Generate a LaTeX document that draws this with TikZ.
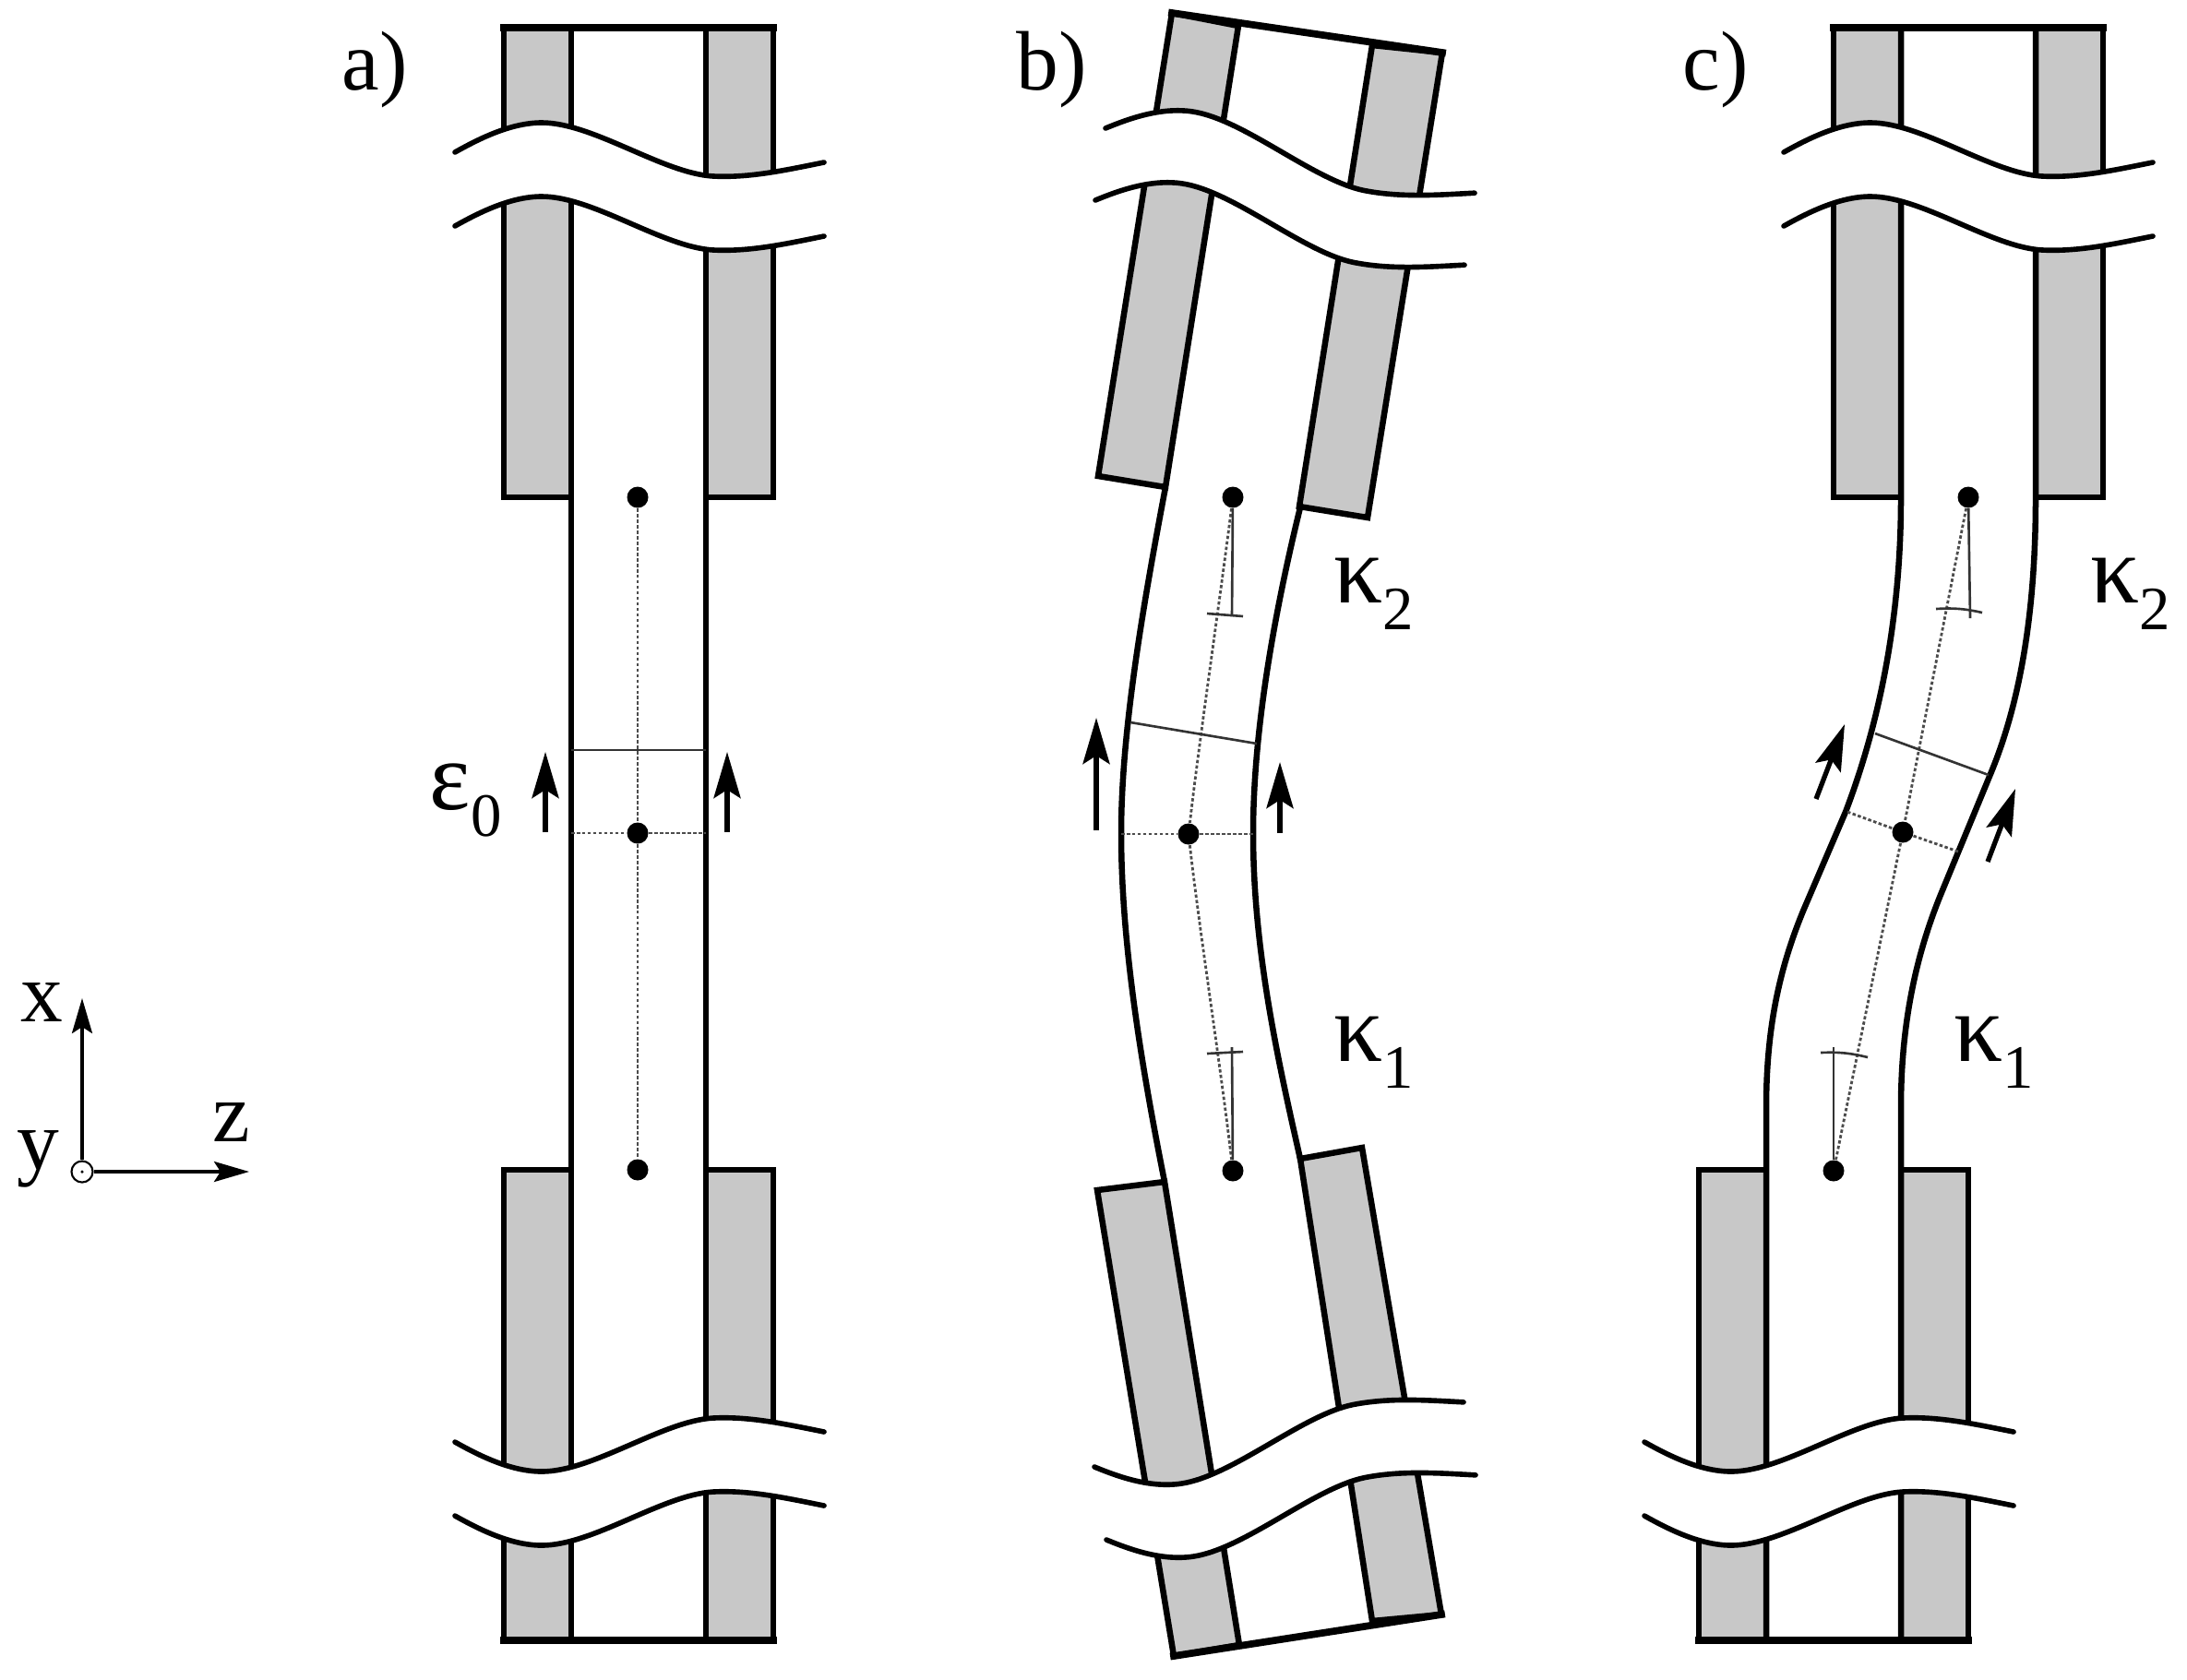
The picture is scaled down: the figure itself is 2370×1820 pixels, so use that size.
\documentclass[tikz,border=0pt]{standalone}
\usepackage{fontspec}
\setmainfont{Liberation Serif}
\usepackage{tikz}
\usetikzlibrary{positioning,arrows.meta}
\tikzstyle{sketch} = [x = .01cm, y = -.01cm, line join = miter]
\definecolor{gripColor}{RGB}{200,200,200}
\tikzstyle{gripStyle} = [color=black, fill=gripColor, line width=1.85pt]
\tikzstyle{edgeLine} = [color=black, line width=1.85pt]
\tikzstyle{capStyle} = [color=black, line width=2.2pt, line cap=rect]
\tikzstyle{breakLine} = [color=black, line width=1.6pt, line cap=round]
\tikzstyle{thinLine} = [color=black!80, line width=.75pt]
\tikzstyle{dottedLine} = [color=black!70, line width=.8pt, dash pattern=on 1pt off .7pt]
\tikzstyle{pointStyle} = [circle, fill=black, inner sep=0, minimum size=.23cm]
\tikzstyle{strainArrow} = [-{Stealth[length=.5cm, width=.29cm, inset=.09cm]}, line width=1.5pt]
\tikzstyle{axisArrow} = [-{Stealth[length=.38cm, width=.22cm, inset=.07cm]}, line width=.95pt]
\tikzstyle{labelText} = [inner sep=0, anchor=base west, font=\fontsize{26}{30}\selectfont]
\tikzstyle{greekText} = [labelText, font=\fontsize{30}{34}\selectfont]
\newcommand{\idx}[1]{\raisebox{-.28em}{\fontsize{19}{22}\selectfont #1}}
% one wavy cut line: prefix, start x, start y, flip, tilt
\newcommand{\breakPoints}[5]{
  \foreach \n/\px/\py in {a/0/0,b/25/-14,c/60/-32,d/94/-32,e/150/-32,f/225/23,g/280/26,h/320/28,i/360/19,j/400/11} {
    \coordinate (#1\n) at (#2 + \px, #3 + #4 * \py + #5 * \px);
  }
}
% white gap between two cut lines: prefix, x1, y1, x2, y2, flip, tilt
\newcommand{\breakBand}[7]{
  \breakPoints{#1u}{#2}{#3}{#6}{#7}
  \breakPoints{#1l}{#4}{#5}{#6}{#7}
  \fill [white] (#1ua) .. controls (#1ub) and (#1uc) .. (#1ud) .. controls (#1ue) and (#1uf) .. (#1ug) .. controls (#1uh) and (#1ui) .. (#1uj)
    -- (#1lj) .. controls (#1li) and (#1lh) .. (#1lg) .. controls (#1lf) and (#1le) .. (#1ld) .. controls (#1lc) and (#1lb) .. (#1la) -- cycle;
  \draw [breakLine] (#1ua) .. controls (#1ub) and (#1uc) .. (#1ud) .. controls (#1ue) and (#1uf) .. (#1ug) .. controls (#1uh) and (#1ui) .. (#1uj);
  \draw [breakLine] (#1la) .. controls (#1lb) and (#1lc) .. (#1ld) .. controls (#1le) and (#1lf) .. (#1lg) .. controls (#1lh) and (#1li) .. (#1lj);
}
\newcommand{\gripPair}[3]{
  \filldraw [gripStyle] (#1 - 73, #2) rectangle (#1, #3);
  \filldraw [gripStyle] (#1 + 146, #2) rectangle (#1 + 219, #3);
}
\newcommand{\capLine}[2]{\draw [capStyle] (#1 - 73, #2) -- (#1 + 219, #2);}
\newcommand{\strain}[5]{
  \coordinate (#1s) at (#2, #3);
  \coordinate (#1e) at (#4, #5);
  \draw [strainArrow] (#1s) -- (#1e);
}
\begin{document}
\begin{tikzpicture}[sketch]
  \useasboundingbox (0,0) rectangle (2370,1820);

  % axes
  \node [circle, draw, line width=.6pt, inner sep=0, minimum size=.23cm] (origin) at (89,1270) {};
  \node [circle, fill=black, inner sep=0, minimum size=.035cm] (originDot) at (origin) {};
  \coordinate (xTip) at (89,1082);
  \coordinate (zTip) at (270,1270);
  \draw [axisArrow] (origin) -- (xTip);
  \draw [axisArrow] (origin) -- (zTip);
  \node [labelText] (xLabel) at (22,1107) {x};
  \node [labelText] (yLabel) at (18,1267) {y};
  \node [labelText] (zLabel) at (230,1237) {z};

  % a)
  \node [labelText] (aLabel) at (370,97) {a)};
  \gripPair{619}{30}{539}
  \gripPair{619}{1268}{1778}
  \capLine{619}{30}
  \capLine{619}{1778}
  \draw [edgeLine] (619,30) -- (619,1778);
  \draw [edgeLine] (765,30) -- (765,1778);
  \breakBand{at}{493}{165}{493}{245}{1}{0}
  \breakBand{ab}{493}{1563}{493}{1643}{-1}{0}
  \node [pointStyle] (aTop) at (691,539) {};
  \node [pointStyle] (aMid) at (691,903) {};
  \node [pointStyle] (aBot) at (691,1268) {};
  \coordinate (aLeft) at (619,903);
  \coordinate (aRight) at (765,903);
  \coordinate (aCutL) at (619,813);
  \coordinate (aCutR) at (765,813);
  \draw [dottedLine] (aTop) -- (aMid);
  \draw [dottedLine] (aMid) -- (aBot);
  \draw [dottedLine] (aLeft) -- (aMid);
  \draw [dottedLine] (aMid) -- (aRight);
  \draw [thinLine] (aCutL) -- (aCutR);
  \strain{aA}{591}{902}{591}{815}
  \strain{aB}{788}{902}{788}{815}
  \node [greekText] (epsLabel) at (465,877) {ε\idx{0}};

  % b)
  \node [labelText] (bLabel) at (1101,97) {b)};
  \filldraw [gripStyle] (1270,14) -- (1342,28) -- (1263,528) -- (1190,516) -- cycle;
  \filldraw [gripStyle] (1487,49) -- (1563,57) -- (1482,561) -- (1408,549) -- cycle;
  \filldraw [gripStyle] (1189,1290) -- (1262,1281) -- (1343,1783) -- (1272,1795) -- cycle;
  \filldraw [gripStyle] (1409,1256) -- (1476,1244) -- (1562,1750) -- (1487,1757) -- cycle;
  \draw [capStyle] (1270,14) -- (1563,57);
  \draw [capStyle] (1272,1795) -- (1562,1750);
  \draw [edgeLine] (1263,528) .. controls (1240,650) and (1215,790) .. (1215,903) .. controls (1215,1030) and (1240,1170) .. (1262,1281);
  \draw [edgeLine] (1409,550) .. controls (1382,660) and (1358,790) .. (1358,903) .. controls (1358,1030) and (1385,1150) .. (1409,1256);
  \breakBand{bt}{1198}{139}{1187}{217}{1}{.148}
  \breakBand{bb}{1186}{1590}{1199}{1669}{-1}{-.148}
  \node [pointStyle] (bTop) at (1336,539) {};
  \node [pointStyle] (bMid) at (1288,904) {};
  \node [pointStyle] (bBot) at (1336,1269) {};
  \coordinate (bLeft) at (1215,904);
  \coordinate (bRight) at (1358,904);
  \coordinate (bCutL) at (1225,783);
  \coordinate (bCutR) at (1362,806);
  \coordinate (bTopEnd) at (1335,668);
  \coordinate (bBotEnd) at (1335,1135);
  \coordinate (bTickA) at (1308,665);
  \coordinate (bTickB) at (1347,668);
  \coordinate (bTickC) at (1308,1142);
  \coordinate (bTickD) at (1347,1140);
  \draw [dottedLine] (bTop) .. controls (1322,650) and (1300,800) .. (bMid);
  \draw [dottedLine] (bMid) .. controls (1300,1010) and (1322,1150) .. (bBot);
  \draw [dottedLine] (bLeft) -- (bMid);
  \draw [dottedLine] (bMid) -- (bRight);
  \draw [thinLine] (bCutL) -- (bCutR);
  \draw [thinLine] (bTop) -- (bTopEnd);
  \draw [thinLine] (bBot) -- (bBotEnd);
  \draw [thinLine] (bTickA) -- (bTickB);
  \draw [thinLine] (bTickC) -- (bTickD);
  \strain{bA}{1188}{900}{1188}{778}
  \strain{bB}{1387}{903}{1387}{826}
  \node [greekText] (bKappaTwo) at (1445,653) {κ\idx{2}};
  \node [greekText] (bKappaOne) at (1445,1150) {κ\idx{1}};

  % c)
  \node [labelText] (cLabel) at (1823,97) {c)};
  \gripPair{2060}{30}{539}
  \gripPair{1914}{1268}{1778}
  \capLine{2060}{30}
  \capLine{1914}{1778}
  \draw [edgeLine] (2060,30) -- (2060,540) .. controls (2060,660) and (2040,775) .. (2000,880) -- (1955,985) .. controls (1930,1045) and (1914,1110) .. (1914,1200) -- (1914,1778);
  \draw [edgeLine] (2206,30) -- (2206,540) .. controls (2206,660) and (2190,760) .. (2157,839) -- (2105,965) .. controls (2080,1025) and (2060,1100) .. (2060,1200) -- (2060,1778);
  \breakBand{ct}{1933}{165}{1933}{245}{1}{0}
  \breakBand{cb}{1782}{1563}{1782}{1643}{-1}{0}
  \node [pointStyle] (cTop) at (2133,539) {};
  \node [pointStyle] (cMid) at (2062,902) {};
  \node [pointStyle] (cBot) at (1987,1269) {};
  \coordinate (cLeft) at (2002,880);
  \coordinate (cRight) at (2122,923);
  \coordinate (cCutL) at (2032,795);
  \coordinate (cCutR) at (2155,840);
  \coordinate (cTopEnd) at (2135,670);
  \coordinate (cBotEnd) at (1987,1135);
  \coordinate (cTickA) at (2098,660);
  \coordinate (cTickB) at (2148,664);
  \coordinate (cTickC) at (1973,1141);
  \coordinate (cTickD) at (2024,1146);
  \draw [dottedLine] (cTop) -- (cMid);
  \draw [dottedLine] (cMid) -- (cBot);
  \draw [dottedLine] (cLeft) -- (cMid);
  \draw [dottedLine] (cMid) -- (cRight);
  \draw [thinLine] (cCutL) -- (cCutR);
  \draw [thinLine] (cTop) -- (cTopEnd);
  \draw [thinLine] (cBot) -- (cBotEnd);
  \draw [thinLine] (cTickA) to [bend left=8] (cTickB);
  \draw [thinLine] (cTickC) to [bend left=8] (cTickD);
  \strain{cA}{1968}{866}{1999}{785}
  \strain{cB}{2154}{934}{2184}{855}
  \node [greekText] (cKappaTwo) at (2265,653) {κ\idx{2}};
  \node [greekText] (cKappaOne) at (2117,1150) {κ\idx{1}};
\end{tikzpicture}
\end{document}
